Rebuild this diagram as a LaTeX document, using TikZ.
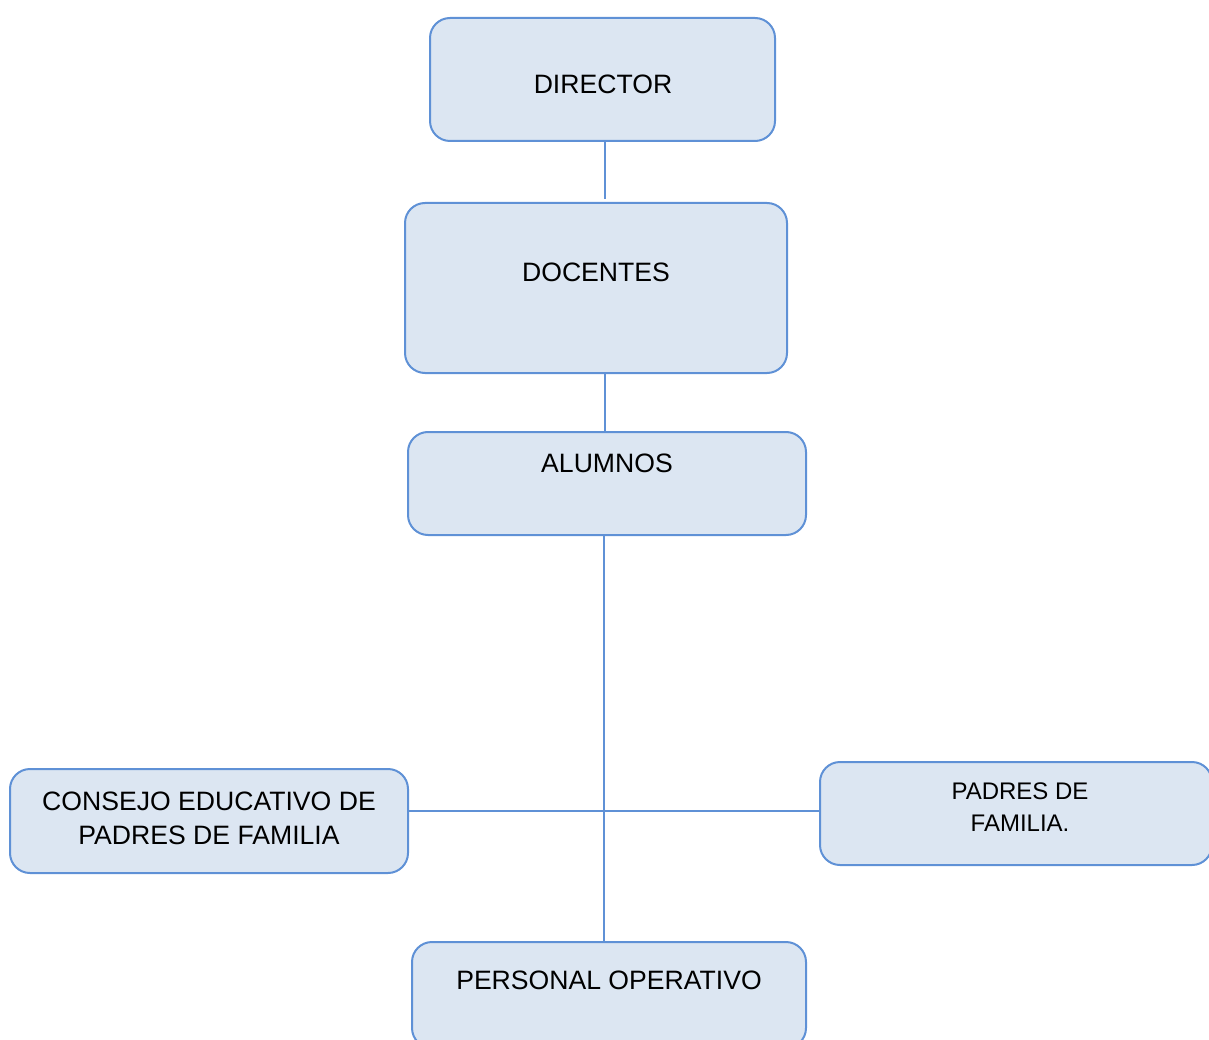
\documentclass[tikz,border=0pt]{standalone}
\usepackage{fontspec}
\setmainfont{Liberation Sans}
\definecolor{boxfill}{RGB}{220,230,242}
\definecolor{boxline}{RGB}{95,145,214}
\begin{document}
\begin{tikzpicture}[x=1pt,y=-1pt,
  orgbox/.style={draw=boxline,fill=boxfill,line width=2pt,rounded corners=20pt,inner sep=0pt},
  lbl/.style={font=\fontsize{26.6}{34}\selectfont,align=center,inner sep=0pt},
  lblsmall/.style={font=\fontsize{24}{32}\selectfont,align=center,inner sep=0pt},
  link/.style={draw=boxline,line width=2pt}]
\useasboundingbox (0,0) rectangle (1209,1040);
\node[orgbox,minimum width=345pt,minimum height=123pt] (dir) at (602.5,79.5) {};
\node[orgbox,minimum width=382pt,minimum height=170pt] (doc) at (596,288) {};
\node[orgbox,minimum width=398pt,minimum height=103pt] (alu) at (607,483.5) {};
\node[orgbox,minimum width=398pt,minimum height=104pt] (con) at (209,821) {};
\node[orgbox,minimum width=392pt,minimum height=103pt] (pad) at (1016,813.5) {};
\node[orgbox,minimum width=394pt,minimum height=106pt] (per) at (609,995) {};
\node[lbl] (tdir) at (603,84) {DIRECTOR};
\node[lbl] (tdoc) at (596,272) {DOCENTES};
\node[lbl] (talu) at (607,463) {ALUMNOS};
\node[lbl] (tcon) at (209,818) {CONSEJO EDUCATIVO DE\\PADRES DE FAMILIA};
\node[lblsmall] (tpad) at (1020,807) {PADRES DE\\FAMILIA.};
\node[lbl] (tper) at (609,980) {PERSONAL OPERATIVO};
\coordinate (c1) at (605,199);
\draw[link] (dir.south -| c1) -- (c1);
\draw[link] (doc.south -| c1) -- (alu.north -| c1);
\coordinate (c2) at (604,811);
\draw[link] (alu.south -| c2) -- (per.north -| c2);
\draw[link] (con.east |- c2) -- (pad.west |- c2);
\end{tikzpicture}
\end{document}
